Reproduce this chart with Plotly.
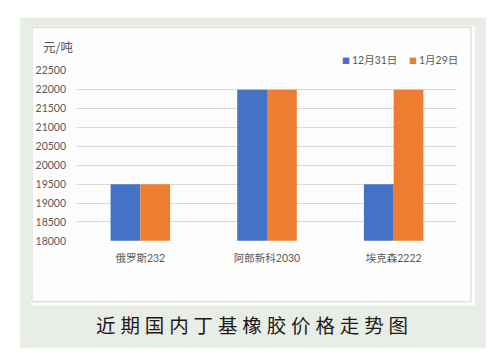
import plotly.graph_objects as go

categories = ["俄罗斯232", "阿郎新科2030", "埃克森2222"]
series_names = ["12月31日", "1月29日"]
values_dec31 = [19500, 22000, 19500]
values_jan29 = [19500, 22000, 22000]
y_ticks = [18000, 18500, 19000, 19500, 20000, 20500, 21000, 21500, 22000, 22500]
y_tick_labels = [str(v) for v in y_ticks]
colors = ["#4472C4", "#ED7D31"]
unit_label = "元/吨"
title_text = "近期国内丁基橡胶价格走势图"

W, H = 495, 358


def px(x):
    return x / W


def py(y):
    return 1 - y / H


fig = go.Figure()
for name, vals, col in zip(series_names, [values_dec31, values_jan29], colors):
    fig.add_trace(go.Bar(x=categories, y=vals, name=name, marker=dict(color=col, line=dict(width=0)),
                         showlegend=False, hoverinfo="skip"))

font_num = "Lato, Noto Sans CJK SC, sans-serif"
font_cjk = "Noto Sans CJK SC, sans-serif"

shapes = [
    dict(type="rect", xref="paper", yref="paper", x0=px(20), x1=px(486), y0=py(354), y1=py(12),
         fillcolor="#e8ede6", line=dict(width=0), layer="below"),
    dict(type="rect", xref="paper", yref="paper", x0=px(31), x1=px(475), y0=py(310), y1=py(21),
         fillcolor="#fdfdfd", line=dict(width=0), layer="below"),
    dict(type="rect", xref="paper", yref="paper", x0=px(32), x1=px(471), y0=py(306), y1=py(22),
         fillcolor="rgba(0,0,0,0)", line=dict(width=1, color="#d4d4d4"), layer="below"),
]

annotations = [
    dict(text=unit_label, x=px(41), y=py(42), xref="paper", yref="paper", xanchor="left", yanchor="middle",
         showarrow=False, font=dict(family=font_cjk, size=12.5, color="#595959")),
    dict(text=f"<span style='color:{colors[0]}'>■</span>", x=px(346), y=py(56), xref="paper", yref="paper",
         xanchor="center", yanchor="middle", showarrow=False, font=dict(family=font_cjk, size=8)),
    dict(text=series_names[0], x=px(350), y=py(56), xref="paper", yref="paper", xanchor="left", yanchor="middle",
         showarrow=False, font=dict(family=font_num, size=10.5, color="#595959")),
    dict(text=f"<span style='color:{colors[1]}'>■</span>", x=px(413), y=py(56), xref="paper", yref="paper",
         xanchor="center", yanchor="middle", showarrow=False, font=dict(family=font_cjk, size=8)),
    dict(text=series_names[1], x=px(417), y=py(56), xref="paper", yref="paper", xanchor="left", yanchor="middle",
         showarrow=False, font=dict(family=font_num, size=10.5, color="#595959")),
    dict(text="\u2005".join(title_text), x=px(251.5), y=py(330), xref="paper", yref="paper",
         xanchor="center", yanchor="middle", showarrow=False,
         font=dict(family=font_cjk, size=19.5, color="#1e1a1b")),
]

fig.update_layout(
    width=W, height=H,
    margin=dict(l=0, r=0, t=0, b=0),
    paper_bgcolor="white",
    plot_bgcolor="#fdfdfd",
    barmode="group",
    bargap=0.53,
    bargroupgap=0,
    showlegend=False,
    hovermode=False,
    shapes=shapes,
    annotations=annotations,
    xaxis=dict(domain=[px(77), px(457)], showgrid=False, showline=False, zeroline=False,
               ticks="", ticklabelstandoff=10,
               tickfont=dict(family=font_num, size=10.5, color="#595959")),
    yaxis=dict(domain=[py(243), py(67)], range=[18000, 22500], tickvals=y_ticks, ticktext=y_tick_labels,
               showgrid=True, gridcolor="#d9d9d9", gridwidth=1, zeroline=False, showline=False,
               ticks="", ticklabelstandoff=10,
               tickfont=dict(family=font_num, size=10.5, color="#595959")),
)

fig.write_html("out.html", config={"displayModeBar": False, "staticPlot": True},
               post_script="document.body.style.margin='0';document.body.style.overflow='hidden';")
